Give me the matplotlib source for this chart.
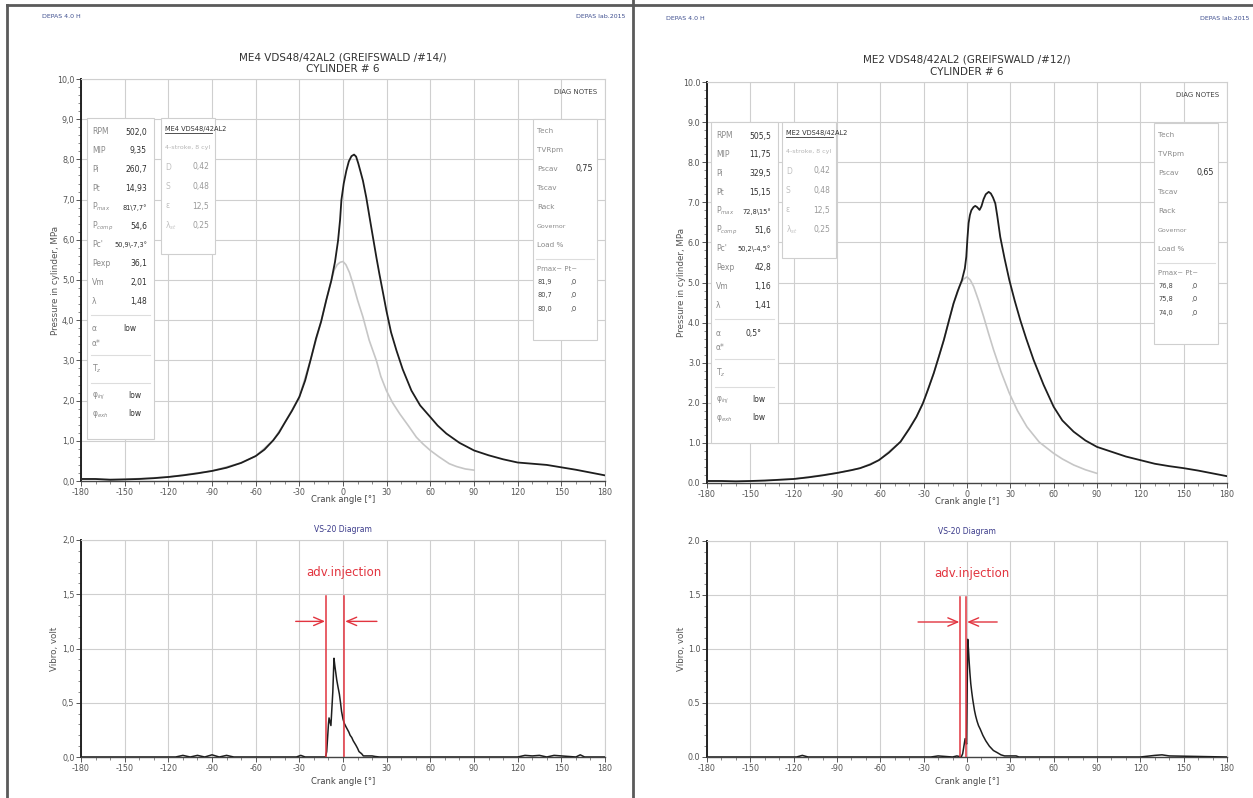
import matplotlib
matplotlib.use('Agg')
import matplotlib.pyplot as plt
from matplotlib.patches import Rectangle
from matplotlib.lines import Line2D
from matplotlib.ticker import MultipleLocator, FuncFormatter

# ---------------- data ----------------
# left engine (ME4) cylinder pressure, MPa
l_fired_ang = [-180, -170, -160, -150, -140, -130, -120, -110, -100, -90, -80, -70, -60, -54, -48, -44, -40, -35,
               -30, -26, -22, -18.5, -15, -11.5, -8, -5.5, -3.4, -2, -1.1, 0.5, 2.3, 4, 5.8, 7.6, 9, 10.5, 12, 13.7,
               16, 18.3, 20.6, 23, 25, 27.5, 29.8, 33, 36.7, 41, 47, 53, 60, 65, 71, 80, 90, 100, 110, 120, 130,
               140, 150, 160, 170, 180]
l_fired_p = [0.05, 0.05, 0.03, 0.04, 0.05, 0.07, 0.10, 0.14, 0.19, 0.25, 0.33, 0.45, 0.62, 0.78, 1.01, 1.2, 1.45,
             1.75, 2.09, 2.5, 3.05, 3.55, 3.97, 4.5, 4.99, 5.45, 5.98, 6.5, 6.99, 7.4, 7.72, 7.95, 8.08, 8.12, 8.07,
             7.9, 7.7, 7.47, 7.05, 6.55, 6.06, 5.55, 5.15, 4.68, 4.24, 3.7, 3.25, 2.78, 2.25, 1.88, 1.59, 1.38, 1.18,
             0.95, 0.76, 0.64, 0.54, 0.46, 0.43, 0.40, 0.34, 0.28, 0.21, 0.14]
l_comp_ang = [-180, -150, -120, -90, -70, -60, -48, -40, -30, -22, -15, -11.5, -8, -6, -4, -2, 0, 2, 4.5, 6.9, 10,
              13.7, 18, 22.9, 26, 29.8, 34, 39, 45, 50.4, 55, 60, 66, 73, 78, 84, 90]
l_comp_p = [0.05, 0.04, 0.10, 0.25, 0.45, 0.62, 1.01, 1.45, 2.09, 3.05, 3.97, 4.5, 4.99, 5.25, 5.38, 5.44, 5.46,
            5.38, 5.18, 4.9, 4.5, 4.08, 3.5, 3.0, 2.6, 2.25, 1.95, 1.67, 1.37, 1.09, 0.92, 0.76, 0.6, 0.43, 0.36,
            0.30, 0.27]

# right engine (ME2) cylinder pressure, MPa
r_fired_ang = [-180, -170, -160, -150, -140, -130, -120, -110, -100, -90, -80, -74, -67, -61, -54, -46, -40, -35,
               -30.5, -27, -23, -19.5, -16, -12.5, -9.3, -6.5, -3.5, -1.5, -0.5, 0.3, 1.1, 2, 3, 4.5, 5.7, 7, 8.7,
               10, 11.5, 13, 15, 16.5, 18, 19.6, 21, 23, 26, 29.3, 33, 36.9, 41, 46.1, 53, 60, 66, 73.8, 82, 90,
               100, 110, 120, 130, 140, 150, 160, 170, 180]
r_fired_p = [0.05, 0.05, 0.04, 0.05, 0.06, 0.08, 0.10, 0.14, 0.19, 0.25, 0.32, 0.37, 0.46, 0.57, 0.76, 1.03, 1.35,
             1.65, 1.99, 2.33, 2.74, 3.15, 3.57, 4.05, 4.48, 4.78, 5.06, 5.35, 5.64, 6.1, 6.48, 6.68, 6.8, 6.88,
             6.91, 6.88, 6.81, 6.9, 7.08, 7.2, 7.26, 7.22, 7.12, 6.97, 6.65, 6.14, 5.6, 5.06, 4.55, 4.06, 3.6, 3.07,
             2.45, 1.9, 1.56, 1.28, 1.06, 0.9, 0.78, 0.66, 0.57, 0.48, 0.42, 0.37, 0.31, 0.24, 0.17]
r_comp_ang = [-180, -150, -120, -90, -74, -61, -46, -35, -30.5, -23, -16, -9.3, -7, -5, -2.5, 0, 2.3, 4.6, 8, 11.5,
              15, 18.4, 23.5, 29.3, 35, 41.5, 50, 60, 66, 73.8, 82, 90]
r_comp_p = [0.05, 0.05, 0.10, 0.25, 0.37, 0.57, 1.03, 1.65, 1.99, 2.74, 3.57, 4.48, 4.7, 4.92, 5.08, 5.14, 5.06,
            4.9, 4.55, 4.15, 3.72, 3.32, 2.78, 2.24, 1.8, 1.4, 1.02, 0.74, 0.6, 0.45, 0.33, 0.24]

# vibration (VS-20), volt
l_vib_ang = [-180, -115, -110, -105, -100, -95, -90, -85, -80, -75, -32, -29, -26, -12, -11.2, -10, -9.6, -8.3, -7,
             -6.2, -5.6, -5, -4.3, -3.5, -2.5, -1.7, -1, 0, 0.9, 2, 2.8, 4, 4.9, 6, 7, 8.8, 10, 11, 12.8, 14, 16.7,
             20, 22, 25, 120, 125, 130, 135, 140, 145, 150, 160, 163, 166, 180]
l_vib_v = [0, 0, 0.015, 0, 0.015, 0, 0.02, 0, 0.015, 0, 0, 0.015, 0, 0, 0.05, 0.3, 0.36, 0.29, 0.6, 0.91, 0.84,
           0.78, 0.71, 0.65, 0.58, 0.5, 0.42, 0.35, 0.31, 0.28, 0.26, 0.23, 0.2, 0.18, 0.15, 0.11, 0.08, 0.05, 0.03,
           0.01, 0.01, 0.01, 0.005, 0, 0, 0.015, 0.01, 0.015, 0, 0.015, 0.01, 0, 0.02, 0, 0]
r_vib_ang = [-180, -118, -114, -110, -25, -20, -10, -7, -4, -3, -1.3, -0.3, 0.5, 1, 1.5, 2, 2.6, 3.3, 4, 5.2, 6, 7,
             8, 9.1, 11, 13, 15.5, 18.3, 21, 23.5, 26, 30, 34, 36, 120, 130, 135, 140, 180]
r_vib_v = [0, 0, 0.015, 0, 0, 0.01, 0, 0.01, 0, 0.03, 0.17, 0.12, 1.09, 1.0, 0.88, 0.78, 0.68, 0.6, 0.53, 0.43,
           0.38, 0.33, 0.29, 0.26, 0.2, 0.15, 0.1, 0.06, 0.04, 0.02, 0.01, 0.01, 0.01, 0, 0, 0.015, 0.02, 0.01, 0]

# injection markers: [start, end] angle and arrow tails
l_inj = [-11.7, 0.9]
r_inj = [-4.7, -0.5]
l_arrow_tails = [-32.5, 23.3]
r_arrow_tails = [-33.9, 20.9]
inj_line_top = 1.48
inj_arrow_level = 1.25
inj_text_level = 1.7

titles = ['ME4 VDS48/42AL2 (GREIFSWALD /#14/)', 'ME2 VDS48/42AL2 (GREIFSWALD /#12/)']
engine_names = ['ME4 VDS48/42AL2', 'ME2 VDS48/42AL2']

stat_labels = ['RPM', 'MIP', 'Pi', 'Pt', r'P$_{max}$', r'P$_{comp}$', "Pc'", 'Pexp', 'Vm', 'λ']
l_stat_values = ['502,0', '9,35', '260,7', '14,93', '81\\7,7°', '54,6', '50,9\\-7,3°', '36,1', '2,01', '1,48']
r_stat_values = ['505,5', '11,75', '329,5', '15,15', '72,8\\15°', '51,6', '50,2\\-4,5°', '42,8', '1,16', '1,41']
l_alpha = 'low'
r_alpha = '0,5°'
phi_values = ['low', 'low']

eng_labels = ['D', 'S', 'ε', r'λ$_{st}$']
eng_values = ['0,42', '0,48', '12,5', '0,25']

tech_labels = ['Tech', 'TVRpm', 'Pscav', 'Tscav', 'Rack', 'Governor', 'Load %']
l_pscav = '0,75'
r_pscav = '0,65'
l_pmax_hist = ['81,9', '80,7', '80,0']
r_pmax_hist = ['76,8', '75,8', '74,0']
pt_hist = [',0', ',0', ',0']

# ---------------- layout helpers ----------------
W, H = 1253, 798
fig = plt.figure(figsize=(W / 100, H / 100), dpi=100)
fig.patch.set_facecolor('white')


def fx(x):
    return x / W


def fy(y):
    return 1 - y / H


def add_ax(x0, x1, ytop, ybot):
    return fig.add_axes([x0 / W, 1 - ybot / H, (x1 - x0) / W, (ybot - ytop) / H])


def txt(x, y, s, **kw):
    kw.setdefault('va', 'center')
    kw.setdefault('fontsize', 5.5)
    fig.text(fx(x), fy(y), s, **kw)


def box(x0, y0, x1, y1):
    fig.add_artist(Rectangle((fx(x0), fy(y1)), (x1 - x0) / W, (y1 - y0) / H, transform=fig.transFigure,
                             facecolor='white', edgecolor='#cfcfcf', lw=0.8, zorder=2))


def hline(x0, x1, y, color='#dddddd', lw=0.8):
    fig.add_artist(Line2D([fx(x0), fx(x1)], [fy(y), fy(y)], transform=fig.transFigure, color=color, lw=lw, zorder=3))


def style(ax, ymax, ystep, yminor, comma):
    ax.set_xlim(-180, 180)
    ax.set_ylim(0, ymax)
    ax.xaxis.set_major_locator(MultipleLocator(30))
    ax.xaxis.set_minor_locator(MultipleLocator(10))
    ax.yaxis.set_major_locator(MultipleLocator(ystep))
    ax.yaxis.set_minor_locator(MultipleLocator(yminor))

    def yf(v, p):
        s = f'{v:.1f}'
        return s.replace('.', ',') if comma else s
    ax.yaxis.set_major_formatter(FuncFormatter(yf))
    ax.xaxis.set_major_formatter(FuncFormatter(lambda v, p: f'{int(round(v))}'))
    ax.grid(True, which='major', color='#cfcfcf', lw=0.8)
    ax.set_axisbelow(True)
    ax.spines['left'].set_color('#222222')
    ax.spines['left'].set_linewidth(1.4)
    ax.spines['bottom'].set_color('#444444')
    ax.spines['bottom'].set_linewidth(1.0)
    for s in ('top', 'right'):
        ax.spines[s].set_color('#cfcfcf')
        ax.spines[s].set_linewidth(0.8)
    ax.tick_params(which='major', labelsize=5.8, labelcolor='#555555', color='#555555', length=3.5, width=0.7,
                   pad=1.2)
    ax.tick_params(which='minor', color='#777777', length=2, width=0.6)


red = '#e2343f'
panels = [
    dict(dx=0, dy=0, axx=(81, 605), top=(79, 481), bot=(540, 757), comma=True,
         fired=(l_fired_ang, l_fired_p), comp=(l_comp_ang, l_comp_p), vib=(l_vib_ang, l_vib_v),
         inj=l_inj, tails=l_arrow_tails, stats=l_stat_values, alpha=l_alpha, pscav=l_pscav, hist=l_pmax_hist,
         title=titles[0], name=engine_names[0]),
    dict(dx=624, dy=4, axx=(707, 1227), top=(82, 483), bot=(541, 757), comma=False,
         fired=(r_fired_ang, r_fired_p), comp=(r_comp_ang, r_comp_p), vib=(r_vib_ang, r_vib_v),
         inj=r_inj, tails=r_arrow_tails, stats=r_stat_values, alpha=r_alpha, pscav=r_pscav, hist=r_pmax_hist,
         title=titles[1], name=engine_names[1]),
]

for k, P in enumerate(panels):
    dx, dy = P['dx'], P['dy']
    x0, x1 = P['axx']
    cx = (x0 + x1) / 2
    # ---- pressure axes
    ax = add_ax(x0, x1, *P['top'])
    style(ax, 10, 1, 0.2, P['comma'])
    ax.plot(*P['comp'], color='#c6c6c6', lw=1.2, zorder=3)
    ax.plot(*P['fired'], color='#1e1e1e', lw=1.3, zorder=4)
    ax.text(0.985, 0.975, 'DIAG NOTES', transform=ax.transAxes, ha='right', va='top', fontsize=5, color='#444444')
    fig.text(fx(cx), fy(P['top'][1] + 18), 'Crank angle [°]', ha='center', va='center', fontsize=6,
             color='#444444')
    fig.text(fx(x0 - 26), fy((P['top'][0] + P['top'][1]) / 2), 'Pressure in cylinder, MPa', rotation=90,
             ha='center', va='center', fontsize=6.3, color='#555555')
    # titles and header
    txt(cx, P['top'][0] - 22, P['title'], ha='center', fontsize=7.5, color='#333333')
    txt(cx, P['top'][0] - 10, 'CYLINDER # 6', ha='center', fontsize=7.5, color='#333333')
    txt(42 + dx, 17 + dy * 0.3, 'DEPAS 4.0 H', fontsize=4.5, color='#3f4f8f')
    txt(625 + dx, 17 + dy * 0.3, 'DEPAS lab.2015', ha='right', fontsize=4.5, color='#3f4f8f')

    # ---- vibro axes
    bx = add_ax(x0, x1, *P['bot'])
    style(bx, 2, 0.5, 0.1, P['comma'])
    bx.plot(*P['vib'], color='#1e1e1e', lw=1.1, zorder=4)
    s0, s1 = P['inj']
    bx.plot([s0, s0], [0, inj_line_top], color=red, lw=1.1, zorder=5)
    bx.plot([s1, s1], [0, inj_line_top], color=red, lw=1.1, zorder=5)
    aprops = dict(arrowstyle='->,head_length=0.7,head_width=0.3', color=red, lw=1.0, shrinkA=0, shrinkB=0)
    bx.annotate('', xy=(s0 - 0.6, inj_arrow_level), xytext=(P['tails'][0], inj_arrow_level), arrowprops=aprops)
    bx.annotate('', xy=(s1 + 0.6, inj_arrow_level), xytext=(P['tails'][1], inj_arrow_level), arrowprops=aprops)
    bx.text((s0 + s1) / 2 + 6, inj_text_level, 'adv.injection', color=red, fontsize=8.5, ha='center',
            va='center')
    fig.text(fx(cx), fy(P['bot'][1] + 24), 'Crank angle [°]', ha='center', va='center', fontsize=6,
             color='#444444')
    fig.text(fx(x0 - 26), fy((P['bot'][0] + P['bot'][1]) / 2), 'Vibro, volt', rotation=90,
             ha='center', va='center', fontsize=6.3, color='#555555')
    txt(cx, P['bot'][0] - 10, 'VS-20 Diagram', ha='center', fontsize=5.5, color='#3a3a8a')

    # ---- stats box
    box(87 + dx, 118 + dy, 154 + dx, 439 + dy)
    lab_c = '#8a8a8a'
    val_c = '#2f2f2f'
    for i, (lab, val) in enumerate(zip(stat_labels, P['stats'])):
        y = 132 + dy + i * 18.8
        txt(92 + dx, y, lab, color=lab_c)
        txt(147 + dx, y, val, ha='right', color=val_c, fontsize=5.5 if '\\' not in val else 4.8)
    hline(91 + dx, 150 + dx, 315 + dy)
    txt(92 + dx, 329 + dy, 'α', color=lab_c)
    txt(130 + dx, 329 + dy, P['alpha'], ha='center', color=val_c)
    txt(92 + dx, 344 + dy, 'α*', color=lab_c)
    hline(91 + dx, 150 + dx, 355 + dy)
    txt(92 + dx, 369 + dy, r'T$_z$', color=lab_c)
    hline(91 + dx, 150 + dx, 383 + dy)
    txt(92 + dx, 396 + dy, r'φ$_{inj}$', color=lab_c)
    txt(128 + dx, 396 + dy, phi_values[0], color=val_c)
    txt(92 + dx, 414 + dy, r'φ$_{exh}$', color=lab_c)
    txt(128 + dx, 414 + dy, phi_values[1], color=val_c)

    # ---- engine box
    ex = dx - 3 if k else dx
    box(161 + ex, 118 + dy, 215 + ex, 254 + dy)
    txt(165 + ex, 129 + dy, P['name'], fontsize=4.8, color='#333333')
    hline(165 + ex, 212 + ex, 133 + dy, color='#333333', lw=0.6)
    txt(165 + ex, 147 + dy, '4-stroke, 8 cyl', fontsize=4.6, color='#b5b5b5')
    for i, (lab, val) in enumerate(zip(eng_labels, eng_values)):
        y = 167 + dy + i * 19.5
        txt(165 + ex, y, lab, color='#c0c0c0')
        txt(209 + ex, y, val, ha='right', color='#9a9a9a')

    # ---- tech box
    tx = dx - 3 if k else dx
    box(533 + tx, 119 + dy, 597 + tx, 340 + dy)
    for i, lab in enumerate(tech_labels):
        y = 131 + dy + i * 19
        txt(537 + tx, y, lab, color=lab_c, fontsize=5.2 if lab != 'Governor' else 4.5)
    txt(593 + tx, 169 + dy, P['pscav'], ha='right', color=val_c, fontsize=5.8)
    hline(536 + tx, 594 + tx, 259 + dy)
    txt(537 + tx, 269 + dy, 'Pmax~ Pt~', color=lab_c, fontsize=5)
    for i, (pm, pt) in enumerate(zip(P['hist'], pt_hist)):
        y = 282 + dy + i * 13.5
        txt(537 + tx, y, pm, color='#444444', fontsize=4.8)
        txt(571 + tx, y, pt, color='#444444', fontsize=4.8)

# ---------------- page frame ----------------
for (xa, ya, xb, yb) in [(7, 5, 1253, 5), (7, 5, 7, 798), (633, 0, 633, 798)]:
    fig.add_artist(Line2D([fx(xa), fx(xb)], [fy(ya), fy(yb)], transform=fig.transFigure, color='#5a5a5a',
                          lw=2, zorder=10))

fig.savefig('out.png', dpi=100, facecolor='white')
